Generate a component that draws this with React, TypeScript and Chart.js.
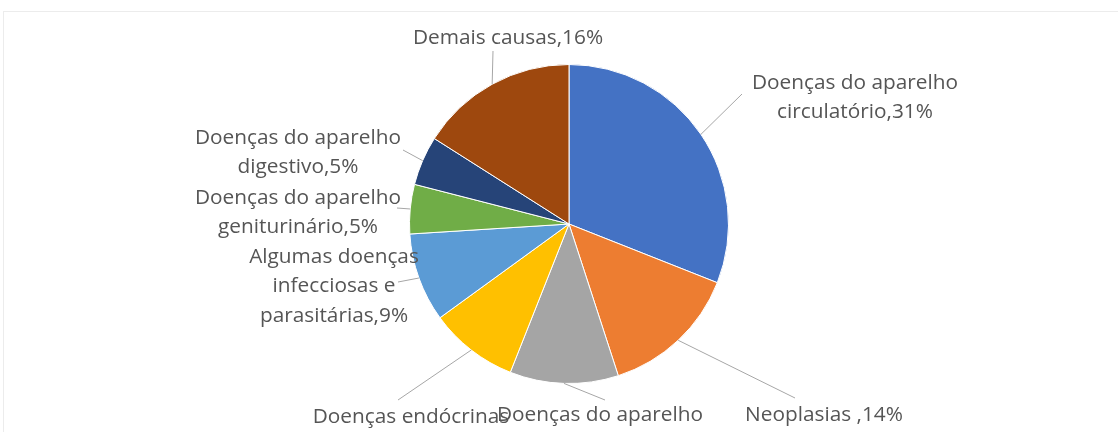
import React, { useEffect, useRef } from "react";
import { Chart, registerables } from "chart.js";

Chart.register(...registerables);

const categories = [
  "Doenças do aparelho circulatório",
  "Neoplasias",
  "Doenças do aparelho respiratório",
  "Doenças endócrinas",
  "Algumas doenças infecciosas e parasitárias",
  "Doenças do aparelho geniturinário",
  "Doenças do aparelho digestivo",
  "Demais causas",
];
const values = [31, 14, 11, 9, 9, 5, 5, 16];
const labelLines = [
  ["Doenças do aparelho", "circulatório,31%"],
  ["Neoplasias ,14%"],
  ["Doenças do aparelho"],
  ["Doenças endócrinas"],
  ["Algumas doenças", "infecciosas e", "parasitárias,9%"],
  ["Doenças do aparelho", "geniturinário,5%"],
  ["Doenças do aparelho", "digestivo,5%"],
  ["Demais causas,16%"],
];
const colors = ["#4472C4", "#ED7D31", "#A5A5A5", "#FFC000", "#5B9BD5", "#70AD47", "#264478", "#9E480E"];

// layout of labels (style): center x, first line y, leader end point
const labelLayout = [
  { x: 855, y: 83, lx: 742, ly: 94 },
  { x: 824, y: 415, lx: 795, ly: 398 },
  { x: 600, y: 415, lx: 605, ly: 400 },
  { x: 411, y: 417, lx: 398, ly: 400 },
  { x: 334, y: 257, lx: 398, ly: 282 },
  { x: 298, y: 198, lx: 397, ly: 208 },
  { x: 298, y: 138, lx: 403, ly: 150 },
  { x: 508, y: 38, lx: 493, ly: 51 },
];

const labelPlugin = {
  id: "pieLabels",
  afterDatasetsDraw(chart: any) {
    const ctx = chart.ctx;
    const meta = chart.getDatasetMeta(0);
    ctx.save();
    meta.data.forEach((arc: any, i: number) => {
      const p = arc.getProps(["x", "y", "startAngle", "endAngle", "outerRadius"], true);
      const mid = (p.startAngle + p.endAngle) / 2;
      const sx = p.x + Math.cos(mid) * p.outerRadius;
      const sy = p.y + Math.sin(mid) * p.outerRadius;
      const L = labelLayout[i];
      ctx.strokeStyle = "#a6a6a6";
      ctx.lineWidth = 1;
      ctx.beginPath();
      ctx.moveTo(sx, sy);
      ctx.lineTo(L.lx, L.ly);
      ctx.stroke();
    });
    ctx.fillStyle = "#555555";
    ctx.font = "20.8px 'Open Sans'";
    ctx.textAlign = "center";
    ctx.textBaseline = "middle";
    labelLines.forEach((lines, i) => {
      const L = labelLayout[i];
      lines.forEach((t, j) => {
        ctx.fillText(t, L.x, L.y + j * 29.5);
      });
    });
    ctx.restore();
  },
};

export default function App() {
  const ref = useRef<HTMLCanvasElement>(null);
  useEffect(() => {
    const chart = new Chart(ref.current as HTMLCanvasElement, {
      type: "pie",
      data: {
        labels: categories,
        datasets: [
          {
            data: values,
            backgroundColor: colors,
            borderColor: "#ffffff",
            borderWidth: 1,
          },
        ],
      },
      options: {
        animation: false,
        responsive: false,
        maintainAspectRatio: false,
        layout: { padding: { left: 409, right: 389, top: 64, bottom: 48 } },
        plugins: { legend: { display: false }, tooltip: { enabled: false } },
      },
      plugins: [labelPlugin],
    });
    return () => chart.destroy();
  }, []);
  return (
    <div style={{ position: "fixed", left: 0, top: 0, width: 1118, height: 432, background: "#fff", overflow: "hidden" }}>
      <div style={{ position: "absolute", left: 3, top: 11, width: 1200, height: 600, border: "1px solid #ececec" }} />
      <canvas ref={ref} width={1118} height={432} style={{ position: "absolute", left: 0, top: 0 }} />
    </div>
  );
}
